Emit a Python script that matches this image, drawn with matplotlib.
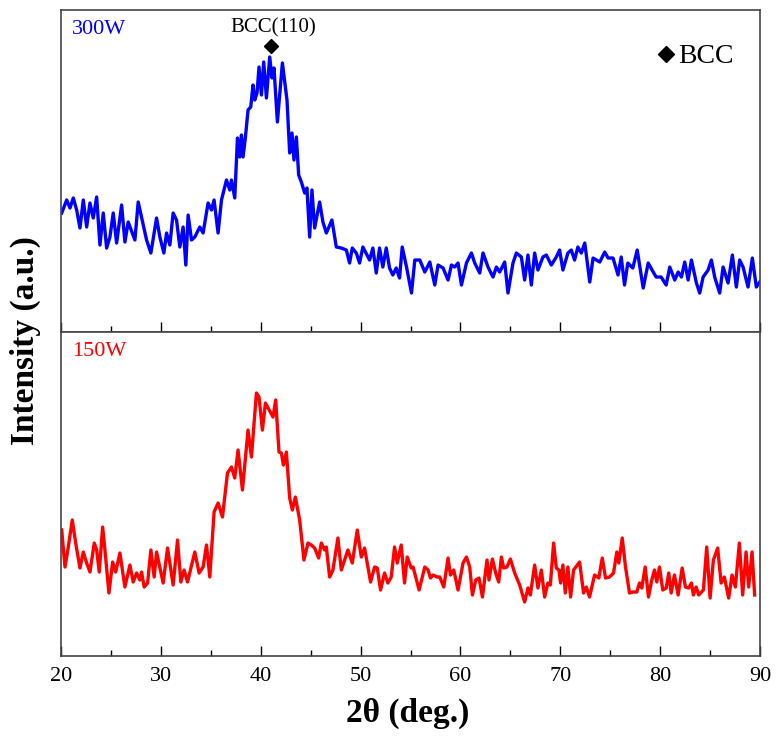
import matplotlib.pyplot as plt
from matplotlib.lines import Line2D
from matplotlib.ticker import MultipleLocator

plt.rcParams["font.family"] = ["Liberation Serif", "DejaVu Serif"]
plt.rcParams["mathtext.fontset"] = "stix"

# 300W pattern (2theta in deg, intensity in a.u.)
two_theta_300 = [
    20.07, 20.57, 20.9, 21.23, 21.57, 21.9, 22.23, 22.57, 22.9, 23.23,
    23.57, 23.9, 24.23, 24.57, 24.9, 25.23, 25.57, 26.07, 26.4, 26.73,
    27.4, 27.73, 28.13, 28.57, 29.0, 29.57, 29.9, 30.3, 30.57, 30.9,
    31.23, 31.57, 31.9, 32.23, 32.5, 32.73, 33.07, 33.4, 33.9, 34.23,
    34.73, 35.07, 35.33, 35.73, 36.07, 36.57, 36.9, 37.07, 37.4, 37.67,
    37.9, 38.07, 38.23, 38.47, 38.73, 39.0, 39.23, 39.4, 39.63, 39.83,
    40.07, 40.3, 40.57, 40.9, 41.13, 41.33, 41.67, 42.17, 42.63, 42.9,
    43.13, 43.33, 43.57, 43.8, 44.07, 44.4, 44.63, 44.9, 45.13, 45.4,
    45.9, 46.23, 46.57, 47.13, 47.57, 48.07, 48.57, 48.9, 49.17, 49.57,
    49.9, 50.23, 50.9, 51.23, 51.57, 51.9, 52.23, 52.57, 52.9, 53.23,
    53.57, 53.9, 54.17, 54.6, 55.1, 55.43, 55.93, 56.43, 56.93, 57.43,
    57.76, 58.26, 58.76, 59.1, 59.43, 59.76, 60.1, 60.6, 61.1, 61.43,
    61.93, 62.26, 62.76, 63.26, 63.6, 63.93, 64.43, 64.76, 65.26, 65.6,
    66.1, 66.43, 66.76, 67.1, 67.43, 67.76, 68.26, 68.6, 69.1, 69.6,
    69.93, 70.26, 70.76, 71.1, 71.43, 71.76, 72.1, 72.45, 72.95, 73.28,
    73.95, 74.45, 74.78, 75.28, 75.78, 76.1, 76.43, 76.76, 77.26, 77.7,
    78.3, 78.8, 79.3, 79.6, 80.1, 80.6, 80.96, 81.46, 81.8, 82.13,
    82.46, 82.8, 83.13, 83.63, 83.96, 84.3, 84.8, 85.13, 85.46, 85.96,
    86.3, 86.8, 87.23, 87.63, 87.96, 88.3, 88.8, 89.23, 89.63, 89.97,
]
intensity_300 = [
    119, 132, 124, 134, 122, 104, 132, 105, 129, 114,
    135, 87, 119, 84, 95, 119, 89, 127, 90, 110,
    92, 130, 112, 92, 79, 114, 95, 79, 99, 87,
    119, 112, 85, 105, 67, 117, 92, 95, 105, 99,
    129, 122, 132, 99, 132, 152, 142, 152, 134, 194,
    175, 197, 175, 195, 222, 225, 247, 232, 239, 265,
    237, 270, 234, 275, 254, 264, 210, 269, 232, 179,
    199, 172, 195, 157, 150, 139, 144, 95, 142, 104,
    130, 110, 99, 112, 85, 84, 82, 69, 84, 79,
    69, 85, 72, 84, 59, 84, 65, 84, 64, 57,
    64, 54, 85, 65, 39, 72, 72, 60, 70, 47,
    67, 64, 52, 67, 65, 69, 47, 69, 79, 69,
    59, 79, 65, 55, 65, 60, 70, 39, 69, 79,
    75, 52, 77, 47, 79, 62, 75, 77, 67, 75,
    82, 62, 79, 82, 72, 85, 79, 89, 50, 74,
    70, 80, 74, 74, 57, 75, 47, 69, 64, 82,
    44, 69, 60, 55, 55, 47, 65, 52, 60, 55,
    70, 52, 72, 49, 39, 55, 62, 72, 55, 39,
    65, 49, 77, 45, 72, 65, 45, 74, 45, 50,
]

# 150W pattern
two_theta_150 = [
    20.07, 20.4, 20.73, 21.13, 21.47, 21.9, 22.23, 22.57, 22.9, 23.33,
    23.57, 23.83, 24.17, 24.4, 24.8, 25.17, 25.47, 25.9, 26.4, 26.9,
    27.23, 27.57, 27.9, 28.07, 28.33, 28.67, 29.0, 29.33, 29.57, 30.23,
    30.67, 31.23, 31.67, 32.0, 32.33, 32.67, 33.4, 33.83, 34.23, 34.57,
    34.9, 35.33, 35.73, 36.17, 36.67, 37.07, 37.4, 37.73, 38.17, 38.73,
    39.07, 39.57, 39.83, 40.17, 40.47, 41.23, 41.5, 41.83, 42.07, 42.27,
    42.57, 42.9, 43.17, 43.47, 43.9, 44.33, 44.73, 45.07, 45.4, 45.8,
    46.07, 46.4, 46.57, 46.9, 47.23, 47.73, 48.07, 48.73, 49.17, 49.67,
    50.07, 50.4, 51.0, 51.4, 51.67, 52.0, 52.4, 52.73, 53.07, 53.4,
    53.67, 54.07, 54.4, 54.67, 55.07, 55.26, 55.86, 56.43, 56.76, 57.0,
    57.26, 57.66, 57.93, 58.33, 58.76, 59.0, 59.33, 59.76, 60.26, 60.6,
    60.93, 61.2, 61.53, 61.86, 62.2, 62.66, 62.86, 63.2, 63.53, 63.83,
    64.1, 64.33, 64.66, 65.0, 65.43, 65.93, 66.43, 66.76, 67.0, 67.43,
    67.76, 68.1, 68.43, 68.76, 69.0, 69.33, 69.6, 69.86, 70.03, 70.26,
    70.5, 70.76, 71.03, 71.33, 71.93, 72.33, 72.6, 72.93, 73.43, 73.86,
    74.2, 74.53, 74.93, 75.33, 75.66, 75.86, 76.2, 76.53, 76.93, 77.26,
    77.66, 77.93, 78.16, 78.5, 78.83, 79.16, 79.43, 79.66, 79.93, 80.26,
    80.6, 80.86, 81.1, 81.43, 81.8, 82.2, 82.53, 82.86, 83.13, 83.33,
    83.6, 83.86, 84.33, 84.66, 85.0, 85.33, 85.76, 86.1, 86.43, 86.86,
    87.2, 87.53, 87.93, 88.26, 88.6, 88.86, 89.2, 89.46,
]
intensity_150 = [
    126, 89, 109, 136, 113, 88, 104, 93, 84, 113,
    106, 84, 129, 106, 63, 94, 84, 103, 69, 91,
    74, 83, 76, 84, 69, 73, 106, 79, 104, 73,
    108, 71, 116, 74, 86, 74, 104, 83, 89, 111,
    79, 144, 153, 139, 183, 189, 178, 206, 166, 226,
    199, 263, 259, 226, 253, 239, 256, 204, 203, 191,
    204, 158, 146, 159, 136, 96, 113, 111, 108, 98,
    113, 106, 109, 79, 86, 118, 86, 106, 93, 126,
    99, 108, 74, 89, 88, 66, 83, 73, 79, 109,
    93, 111, 73, 99, 88, 89, 66, 89, 86, 78,
    81, 79, 79, 69, 98, 81, 86, 66, 93, 99,
    89, 61, 76, 78, 59, 96, 76, 97, 83, 74,
    99, 88, 89, 97, 83, 71, 54, 68, 61, 91,
    68, 86, 59, 73, 71, 113, 88, 86, 73, 91,
    63, 89, 59, 86, 94, 63, 69, 59, 81, 78,
    98, 78, 79, 83, 104, 93, 118, 89, 63, 64,
    64, 73, 68, 89, 59, 76, 86, 74, 89, 66,
    68, 83, 63, 81, 61, 88, 69, 68, 73, 61,
    69, 61, 66, 109, 58, 96, 108, 73, 79, 58,
    81, 69, 113, 61, 104, 69, 104, 61,
]

panel_labels = ["300W", "150W"]
panel_colors = ["#0000ff", "#ff0000"]
peak_pos = 41.0
peak_mark_height = 286

fig = plt.figure(figsize=(7.8, 7.39), dpi=100)
ax_top = fig.add_axes([0.0782, 0.5507, 0.8962, 0.4358])
ax_bot = fig.add_axes([0.0782, 0.1123, 0.8962, 0.4384])

for ax, x, y, lab, col, ytop in [
    (ax_top, two_theta_300, intensity_300, panel_labels[0], panel_colors[0], 322),
    (ax_bot, two_theta_150, intensity_150, panel_labels[1], panel_colors[1], 324),
]:
    ax.plot(x, y, color=col, linewidth=2.4, solid_joinstyle="round")
    ax.set_xlim(20, 90)
    ax.set_ylim(0, ytop)
    ax.set_yticks([])
    ax.xaxis.set_major_locator(MultipleLocator(10))
    ax.xaxis.set_minor_locator(MultipleLocator(5))
    ax.tick_params(axis="x", which="major", direction="in", length=7, width=1,
                   labelsize=16, pad=8, top=False, colors="black")
    ax.tick_params(axis="x", which="minor", direction="in", length=4, width=1,
                   top=False)
    for sp in ax.spines.values():
        sp.set_color("#444444")
        sp.set_linewidth(1.2)
    ax.text(0.016, 0.968, lab, transform=ax.transAxes, color=col,
            fontsize=16, va="top", ha="left")

ax_top.tick_params(axis="x", labelbottom=False)

# BCC(110) peak marker
ax_top.plot([peak_pos], [peak_mark_height], marker="D", color="black",
            markersize=7, linestyle="none")
ax_top.text(41.3, 299, "BCC(110)", ha="center", va="baseline", fontsize=15)

handle = Line2D([], [], marker="D", color="black", linestyle="none", markersize=8)
ax_top.legend([handle], ["BCC"], loc="upper right", frameon=False, fontsize=20,
              handlelength=0.6, handletextpad=0.15, borderpad=0,
              borderaxespad=0, bbox_to_anchor=(0.963, 0.895))

fig.text(0.523, 0.035, "2θ (deg.)", ha="center", va="center",
         fontsize=24, fontweight="bold")
fig.text(0.032, 0.539, "Intensity (a.u.)", ha="center", va="center",
         rotation=90, fontsize=24, fontweight="bold")

fig.savefig("out.png", dpi=100)
